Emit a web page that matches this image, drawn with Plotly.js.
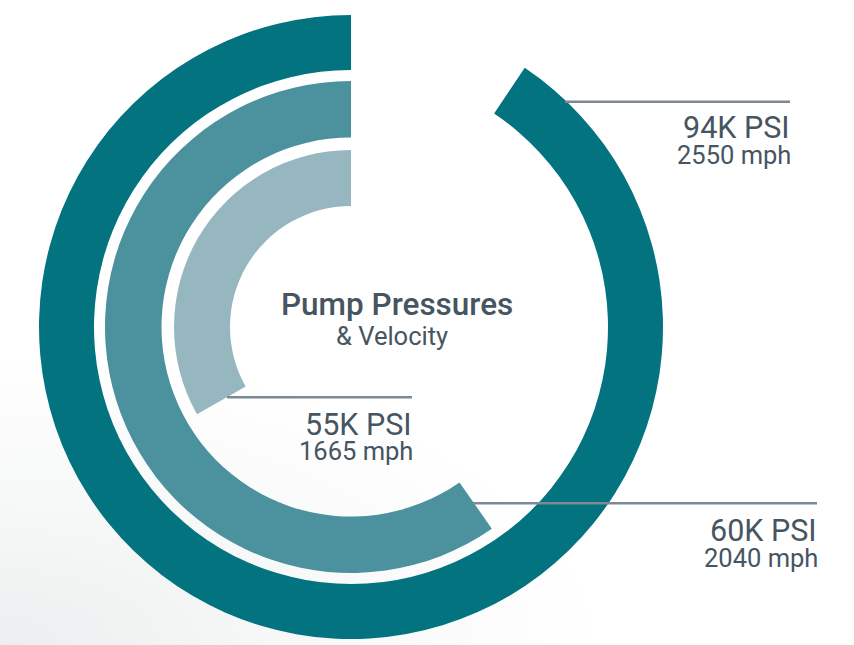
<!DOCTYPE html>
<html>
<head>
<meta charset="utf-8">
<script src="https://cdn.plot.ly/plotly-3.0.1.min.js"></script>
<style>
  html, body { margin: 0; padding: 0; }
  body {
    width: 854px; height: 645px; overflow: hidden;
    background: radial-gradient(ellipse 70% 45% at 0% 100%, #eceeef 0%, #f6f7f7 45%, #ffffff 100%);
  }
  #chart { width: 854px; height: 645px; }
</style>
</head>
<body>
<div id="chart"></div>
<script>
// ---- data ----
const ringNames   = ['Outer', 'Middle', 'Inner'];
const psiK        = [94, 60, 55];          // pump pressure, thousand PSI
const mph         = [2550, 2040, 1665];    // velocity
const arcPercent  = [90.6, 59.7, 33.2];    // share of the full circle covered by each ring
const ringColors  = ['#03737f', '#4b919e', '#97b7c0'];

// ---- layout geometry (pixels) ----
const W = 854, H = 645;
const cx = 351, cy = 327;
const ringOuter = [312, 246, 177];
const ringInner = [257, 189.5, 121];

const px = x => x / W;
const py = y => 1 - y / H;

// the empty part is listed first so the filled arc runs counter-clockwise from 12 o'clock
const traces = ringNames.map((name, i) => {
  const R = ringOuter[i];
  return {
    type: 'pie',
    name: name,
    values: [100 - arcPercent[i], arcPercent[i]],
    marker: { colors: ['rgba(0,0,0,0)', ringColors[i]], line: { width: 0 } },
    sort: false,
    direction: 'clockwise',
    rotation: 0,
    hole: ringInner[i] / R,
    domain: { x: [px(cx - R), px(cx + R)], y: [py(cy + R), py(cy - R)] },
    textinfo: 'none',
    hoverinfo: 'skip',
    showlegend: false
  };
});

const textColor = '#46555f';
const lineColor = '#7d8a93';

// label placement per ring: [leader x0, leader x1, leader y, text right edge, psi y, mph y]
const labelPos = [
  [565, 790, 101.7, 792, 127, 155.5],
  [473, 817, 503.3, 819, 530, 557.5],
  [227, 412, 397.3, 414, 424, 450.5]
];

const shapes = labelPos.map(p => ({
  type: 'line', xref: 'paper', yref: 'paper', layer: 'above',
  x0: px(p[0]), x1: px(p[1]), y0: py(p[2]), y1: py(p[2]),
  line: { color: lineColor, width: 2.5 }
}));

const annotations = [];
labelPos.forEach((p, i) => {
  annotations.push({
    xref: 'paper', yref: 'paper', x: px(p[3]), y: py(p[4]),
    xanchor: 'right', yanchor: 'middle', showarrow: false,
    text: psiK[i] + 'K PSI',
    font: { family: 'Roboto, sans-serif', size: 30.5, color: textColor }
  });
  annotations.push({
    xref: 'paper', yref: 'paper', x: px(p[3] + 1), y: py(p[5]),
    xanchor: 'right', yanchor: 'middle', showarrow: false,
    text: mph[i] + ' mph',
    font: { family: 'Roboto, sans-serif', size: 25.5, color: textColor }
  });
});

annotations.push({
  xref: 'paper', yref: 'paper', x: px(397), y: py(304.5),
  xanchor: 'center', yanchor: 'middle', showarrow: false,
  text: 'Pump Pressures',
  font: { family: 'Roboto, sans-serif', size: 31.5, color: textColor, weight: 500 }
});
annotations.push({
  xref: 'paper', yref: 'paper', x: px(392), y: py(335.5),
  xanchor: 'center', yanchor: 'middle', showarrow: false,
  text: '&amp; Velocity',
  font: { family: 'Roboto, sans-serif', size: 25.5, color: textColor }
});

const layout = {
  width: W, height: H,
  margin: { l: 0, r: 0, t: 0, b: 0, pad: 0 },
  paper_bgcolor: 'rgba(0,0,0,0)',
  plot_bgcolor: 'rgba(0,0,0,0)',
  showlegend: false,
  shapes: shapes,
  annotations: annotations
};

Plotly.newPlot('chart', traces, layout, { staticPlot: true, displayModeBar: false });
</script>
</body>
</html>
